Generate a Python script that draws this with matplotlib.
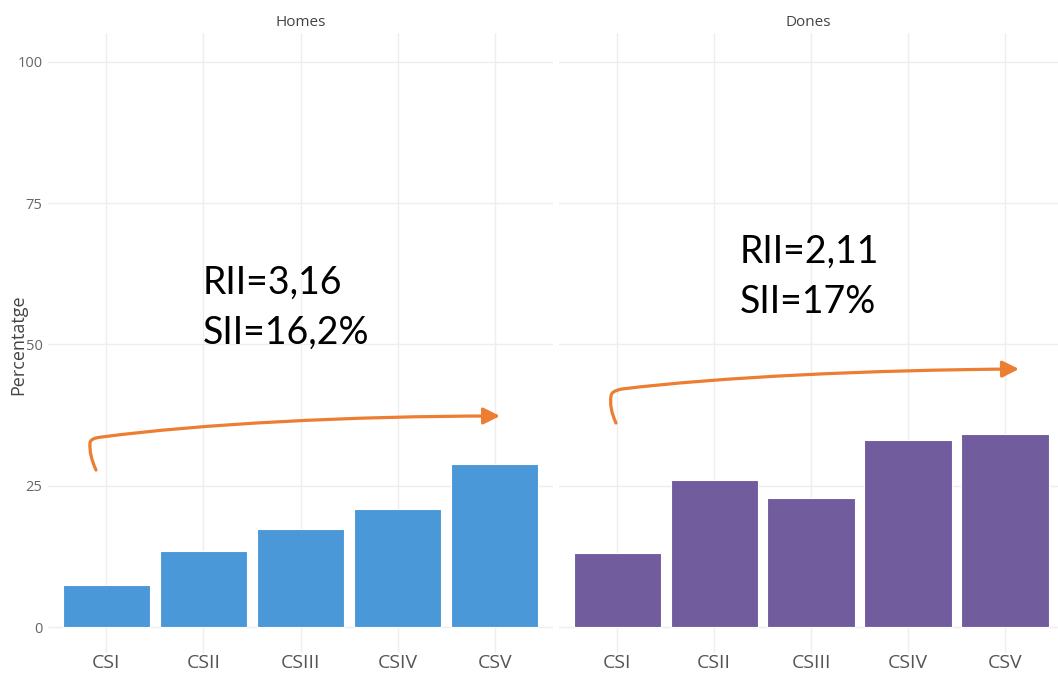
import numpy as np
import matplotlib.pyplot as plt
from matplotlib.path import Path
from matplotlib.patches import FancyArrowPatch

# dades
categories = ['CSI', 'CSII', 'CSIII', 'CSIV', 'CSV']
homes = [7.4, 13.5, 17.3, 20.9, 28.8]
dones = [13.1, 26.0, 22.8, 33.1, 34.2]
panels = ['Homes', 'Dones']
notes = {'Homes': ['RII=3,16', 'SII=16,2%'], 'Dones': ['RII=2,11', 'SII=17%']}

W, H = 1058, 679
plt.rcParams['font.family'] = ['Open Sans', 'DejaVu Sans']
fig = plt.figure(figsize=(W / 100, H / 100), dpi=100)


def fx(px):
    return px / W


def fy(py):
    return 1 - py / H


ax_l = fig.add_axes([fx(48), fy(653), fx(553) - fx(48), fy(33) - fy(653)])
ax_r = fig.add_axes([fx(559), fy(653), 1 - fx(559), fy(33) - fy(653)])

x = np.arange(len(categories))
for ax, vals, color, title, xmax in [(ax_l, homes, '#4A98D8', panels[0], 4.6),
                                     (ax_r, dones, '#715C9E', panels[1], 4.546)]:
    ax.bar(x, vals, width=0.9, color=color, edgecolor='#ffffff', linewidth=0.8, zorder=3)
    ax.set_xlim(-0.6, xmax)
    ax.set_ylim(-4.6, 105.1)
    ax.set_xticks(x)
    ax.set_xticklabels(categories, fontsize=14, color='#555555')
    ax.set_yticks([0, 25, 50, 75, 100])
    ax.grid(True, color='#eeeeee', linewidth=1, zorder=0)
    ax.tick_params(axis='x', length=0, pad=1)
    ax.tick_params(axis='y', length=0, pad=4)
    for s in ax.spines.values():
        s.set_visible(False)
    ax.set_title(title, fontsize=11, color='#444444', pad=5)

ax_l.set_yticklabels(['0', '25', '50', '75', '100'], fontsize=10.5, color='#666666')
ax_r.set_yticklabels([])
fig.text(fx(18), fy(345), 'Percentatge', rotation=90, ha='center', va='center',
         fontsize=13, color='#444444')

# anotacions RII / SII
for (tx, ty1, ty2), name in [((203, 283, 333), 'Homes'), ((740, 252, 302), 'Dones')]:
    fig.text(fx(tx), fy(ty1), notes[name][0], fontsize=27, family=['Lato', 'DejaVu Sans'],
             ha='left', va='center')
    fig.text(fx(tx), fy(ty2), notes[name][1], fontsize=27, family=['Lato', 'DejaVu Sans'],
             ha='left', va='center')

# fletxes taronja
arrows = [
    [(96, 470), (89, 455), (90, 443), (90, 438), (102, 437), (200, 424), (350, 416), (500, 416)],
    [(616, 423), (609, 408), (611, 396), (611, 391), (622, 389), (720, 377), (870, 370), (1019, 369)],
]
codes = [Path.MOVETO, Path.CURVE3, Path.CURVE3, Path.CURVE3, Path.CURVE3,
         Path.CURVE4, Path.CURVE4, Path.CURVE4]
for pts in arrows:
    verts = [(fx(px), fy(py)) for px, py in pts]
    arr = FancyArrowPatch(path=Path(verts, codes), transform=fig.transFigure,
                          arrowstyle='-|>,head_length=10,head_width=5',
                          color='#ED7D31', linewidth=2.3, mutation_scale=1)
    fig.add_artist(arr)

fig.savefig('out.png', dpi=100)
